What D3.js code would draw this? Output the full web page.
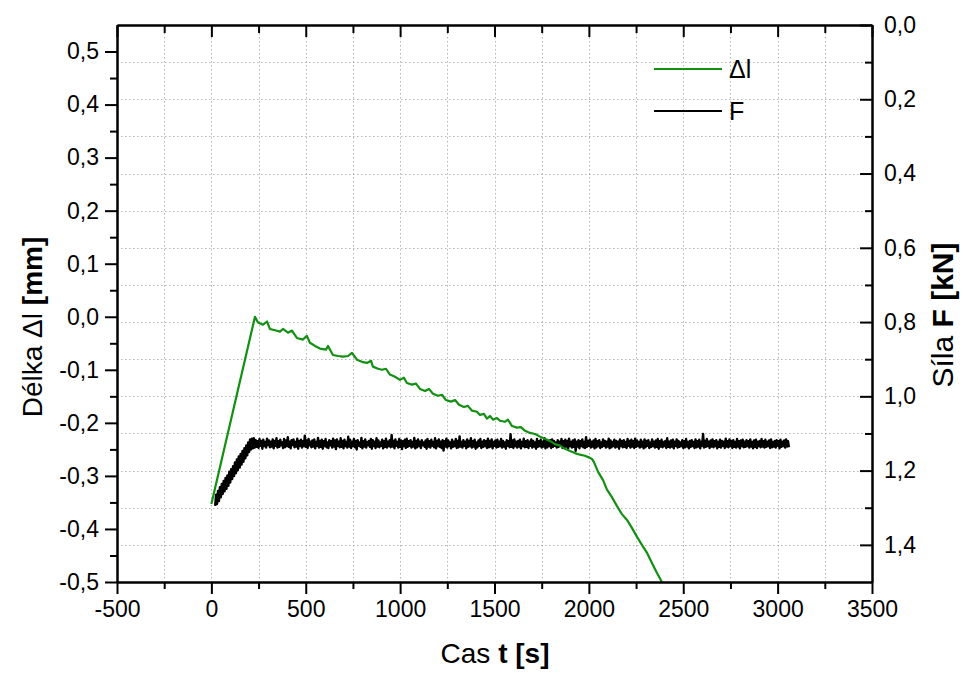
<!DOCTYPE html>
<html><head><meta charset="utf-8">
<script src="https://cdn.jsdelivr.net/npm/d3@7"></script>
<style>
body{margin:0;background:#fff}
text{font-family:"Liberation Sans",Arial,sans-serif;fill:#000}
</style>
</head><body>
<svg id="chart" width="963" height="673"></svg>
<script>
// ---------- data ----------
const xMajorTicks = [-500,0,500,1000,1500,2000,2500,3000,3500];
const xMinorTicks = [-250,250,750,1250,1750,2250,2750,3250];
const leftMajorTicks = [-0.5,-0.4,-0.3,-0.2,-0.1,0.0,0.1,0.2,0.3,0.4,0.5];
const leftMinorTicks = [-0.45,-0.35,-0.25,-0.15,-0.05,0.05,0.15,0.25,0.35,0.45];
const rightMajorTicks = [0.0,0.2,0.4,0.6,0.8,1.0,1.2,1.4];
const rightMinorTicks = [0.1,0.3,0.5,0.7,0.9,1.1,1.3];

// Δl (green) – time [s] and length [mm]
const dlTime = [0,231,247,273,295,310,342,363,379,406,427,453,485,506,522,549,575,607,618,644,671,697,724,745,771,798,824,846,856,883,904,925,946,973,999,1020,1036,1063,1084,1105,1132,1153,1174,1201,1222,1243,1269,1291,1312,1338,1359,1381,1407,1423,1444,1460,1476,1492,1513,1529,1555,1571,1593,1619,1640,1662,1688,1715,1741,1767,1794,1820,1847,1873,1900,1926,1953,1979,2006,2016,2027,2048,2075,2096,2122,2149,2175,2202,2228,2255,2281,2308,2334,2361,2387];
const dlValue = [-0.353,0.000,-0.011,-0.015,-0.009,-0.023,-0.026,-0.028,-0.023,-0.030,-0.026,-0.040,-0.043,-0.036,-0.049,-0.055,-0.060,-0.062,-0.055,-0.072,-0.074,-0.075,-0.074,-0.068,-0.081,-0.085,-0.087,-0.083,-0.094,-0.098,-0.100,-0.098,-0.109,-0.113,-0.119,-0.115,-0.125,-0.128,-0.126,-0.136,-0.140,-0.136,-0.145,-0.149,-0.147,-0.157,-0.160,-0.157,-0.166,-0.170,-0.168,-0.177,-0.179,-0.185,-0.183,-0.192,-0.187,-0.194,-0.191,-0.196,-0.198,-0.194,-0.206,-0.209,-0.208,-0.215,-0.219,-0.221,-0.226,-0.230,-0.234,-0.240,-0.243,-0.249,-0.253,-0.257,-0.260,-0.262,-0.266,-0.268,-0.274,-0.292,-0.308,-0.326,-0.340,-0.357,-0.372,-0.383,-0.398,-0.415,-0.430,-0.445,-0.464,-0.483,-0.500];

// F (black) – sampled every fStep seconds starting at fStart, force [kN]
const fStart = 20;
const fStep = 5;
const fValues = [
1.295,1.265,1.290,1.255,1.282,1.245,1.272,1.236,1.263,1.228,1.256,1.220,1.249,1.213,1.241,1.203,1.232,1.196,1.223,1.188,1.215,1.178,1.207,1.170,1.199,1.162,1.192,1.155,1.184,1.147,1.176,1.140,1.167,1.132,1.159,1.124,1.150,1.116,1.143,1.114,1.140,1.113,1.138,
1.118,1.136,1.121,1.139,1.115,1.133,1.120,1.141,1.117,1.134,1.123,1.138,1.114,1.131,1.119,1.137,1.122,1.135,1.116,1.140,
1.120,1.133,1.113,1.138,1.121,1.136,1.117,1.132,1.124,1.139,1.115,1.137,1.119,1.134,1.110,1.136,1.122,1.140,1.118,1.131,
1.116,1.137,1.123,1.135,1.114,1.141,1.120,1.133,1.117,1.138,1.121,1.134,1.106,1.136,1.119,1.139,1.115,1.132,1.122,1.137,
1.119,1.135,1.116,1.140,1.123,1.133,1.112,1.138,1.120,1.136,1.117,1.141,1.121,1.134,1.115,1.137,1.124,1.139,1.118,1.132,
1.121,1.138,1.114,1.135,1.119,1.142,1.116,1.133,1.122,1.137,1.113,1.136,1.120,1.140,1.117,1.134,1.123,1.138,1.109,1.135,
1.117,1.139,1.122,1.134,1.115,1.137,1.120,1.143,1.118,1.133,1.124,1.136,1.112,1.140,1.121,1.135,1.116,1.138,1.123,1.132,
1.120,1.136,1.115,1.141,1.118,1.134,1.122,1.139,1.113,1.135,1.119,1.137,1.124,1.133,1.117,1.140,1.121,1.136,1.114,1.138,
1.122,1.134,1.118,1.137,1.104,1.135,1.120,1.140,1.116,1.133,1.123,1.138,1.115,1.136,1.119,1.142,1.121,1.134,1.117,1.139,
1.114,1.136,1.121,1.133,1.118,1.138,1.123,1.135,1.112,1.140,1.120,1.137,1.116,1.134,1.122,1.139,1.118,1.132,1.124,1.136,
1.119,1.141,1.115,1.135,1.121,1.138,1.117,1.133,1.123,1.137,1.113,1.140,1.120,1.134,1.116,1.136,1.122,1.139,1.118,1.146,
1.121,1.135,1.114,1.138,1.119,1.133,1.124,1.140,1.117,1.136,1.122,1.134,1.115,1.139,1.120,1.137,1.108,1.135,1.123,1.138,
1.118,1.133,1.122,1.140,1.116,1.136,1.120,1.134,1.113,1.138,1.121,1.135,1.117,1.141,1.124,1.137,1.119,1.133,1.115,1.139,
1.122,1.136,1.118,1.134,1.121,1.139,1.114,1.137,1.120,1.135,1.116,1.140,1.123,1.133,1.119,1.138,1.117,1.136,1.122,1.134,
1.115,1.138,1.120,1.135,1.124,1.141,1.118,1.133,1.121,1.137,1.102,1.136,1.119,1.139,1.116,1.134,1.122,1.138,1.120,1.135,
1.117,1.140,1.123,1.134,1.114,1.137,1.121,1.136,1.118,1.139,1.122,1.133,1.116,1.138,1.120,1.135,1.124,1.141,1.115,1.136,
1.121,1.134,1.117,1.138,1.122,1.135,1.113,1.140,1.119,1.137,1.123,1.134,1.118,1.139,1.116,1.136,1.120,1.133,1.124,1.138,
1.118,1.136,1.122,1.133,1.115,1.139,1.121,1.137,1.117,1.135,1.120,1.141,1.114,1.134,1.123,1.138,1.119,1.136,1.116,1.147,
1.122,1.135,1.118,1.140,1.121,1.134,1.116,1.137,1.123,1.139,1.110,1.136,1.120,1.133,1.117,1.138,1.122,1.135,1.119,1.140,
1.115,1.137,1.121,1.134,1.118,1.139,1.124,1.136,1.116,1.133,1.120,1.138,1.122,1.135,1.114,1.140,1.119,1.137,1.123,1.134,
1.117,1.138,1.120,1.135,1.122,1.141,1.116,1.134,1.121,1.137,1.118,1.136,1.123,1.139,1.115,1.133,1.120,1.138,1.117,1.135,
1.121,1.139,1.114,1.136,1.119,1.134,1.123,1.138,1.117,1.135,1.122,1.140,1.116,1.137,1.120,1.133,1.118,1.139,1.124,1.136,
1.116,1.134,1.122,1.138,1.119,1.136,1.115,1.141,1.121,1.135,1.117,1.137,1.123,1.134,1.120,1.139,1.113,1.136,1.122,1.138,
1.119,1.135,1.117,1.140,1.122,1.133,1.116,1.138,1.120,1.136,1.124,1.134,1.118,1.139,1.121,1.137,1.115,1.135,1.123,1.140,
1.120,1.136,1.118,1.134,1.123,1.139,1.116,1.137,1.121,1.135,1.117,1.140,1.122,1.133,1.101,1.138,1.120,1.136,1.115,1.134,
1.122,1.139,1.119,1.135,1.116,1.137,1.121,1.134,1.118,1.140,1.123,1.136,1.117,1.138,1.120,1.133,1.122,1.139,1.114,1.135,
1.121,1.137,1.116,1.134,1.120,1.139,1.118,1.136,1.123,1.138,1.115,1.135,1.121,1.140,1.119,1.134,1.117,1.137,1.122,1.136,
1.118,1.134,1.121,1.138,1.116,1.135,1.123,1.140,1.119,1.136,1.117,1.139,1.122,1.134,1.120,1.137,1.115,1.135,1.121,1.138,
1.117,1.136,1.122,1.134,1.119,1.139,1.116,1.137,1.123,1.135,1.120,1.138,1.118,1.133,1.121,1.140,1.117,1.136,1.122,1.134,
1.119,1.138,1.116,1.135,1.121,1.137
];

const legendLabels = ["Δl","F"];
const seriesColors = ["#129012","#000000"];

// ---------- layout ----------
const L = 117, R = 872, T = 25, B = 582;
const svg = d3.select("#chart");
const loc = d3.formatLocale({decimal:",",thousands:" ",grouping:[3],currency:["",""],minus:"-"});
const f1 = loc.format(".1f");
const f0 = loc.format("d");

const x = d3.scaleLinear().domain([-500,3500]).range([L,R]);
const yL = d3.scaleLinear().domain([-0.5,0.55]).range([B,T]);
const yR = d3.scaleLinear().domain([0,1.5]).range([T,B]);

// grid
const grid = svg.append("g").attr("stroke","#b4b4b4").attr("stroke-width",1).attr("stroke-dasharray","1.5,2.5");
const vGrid = xMajorTicks.concat(xMinorTicks).filter(v => v > -500 && v < 3500);
grid.selectAll("line.v").data(vGrid).join("line").attr("class","v")
  .attr("x1",d=>Math.round(x(d))+0.5).attr("x2",d=>Math.round(x(d))+0.5).attr("y1",T).attr("y2",B);
const hGrid = rightMajorTicks.concat(rightMinorTicks).filter(v => v > 0 && v < 1.5);
grid.selectAll("line.h").data(hGrid).join("line").attr("class","h")
  .attr("y1",d=>Math.round(yR(d))+0.5).attr("y2",d=>Math.round(yR(d))+0.5).attr("x1",L).attr("x2",R);

// series
const fData = fValues.map((v,i)=>({t:fStart+i*fStep, v}));
const dlData = dlTime.map((t,i)=>({t, v:dlValue[i]}));

svg.append("path").datum(fData)
  .attr("fill","none").attr("stroke",seriesColors[1]).attr("stroke-width",2.4).attr("stroke-linejoin","round")
  .attr("d", d3.line().x(d=>x(d.t)).y(d=>yR(d.v)));
svg.append("path").datum(dlData)
  .attr("fill","none").attr("stroke",seriesColors[0]).attr("stroke-width",2.2).attr("stroke-linejoin","round")
  .attr("d", d3.line().x(d=>x(d.t)).y(d=>yL(d.v)));

// axes
function style(g, fs){
  g.select(".domain").attr("stroke","#000").attr("stroke-width",2);
  g.selectAll(".tick line").attr("stroke","#000").attr("stroke-width",2);
  g.selectAll(".tick text").attr("font-size",fs).attr("fill","#000").attr("font-family",'"Liberation Sans",Arial,sans-serif');
}
const FS = 23;
// bottom
svg.append("g").attr("transform",`translate(0,${B})`)
  .call(d3.axisBottom(x).tickValues(xMajorTicks).tickFormat(f0).tickSize(12).tickSizeOuter(0).tickPadding(7))
  .call(g=>style(g,FS));
svg.append("g").attr("transform",`translate(0,${B})`)
  .call(d3.axisBottom(x).tickValues(xMinorTicks).tickFormat("").tickSize(7).tickSizeOuter(0))
  .call(g=>style(g,FS));
// top
svg.append("g").attr("transform",`translate(0,${T})`)
  .call(d3.axisTop(x).tickValues(xMajorTicks).tickFormat("").tickSize(-12).tickSizeOuter(0))
  .call(g=>style(g,FS));
svg.append("g").attr("transform",`translate(0,${T})`)
  .call(d3.axisTop(x).tickValues(xMinorTicks).tickFormat("").tickSize(-8).tickSizeOuter(0))
  .call(g=>style(g,FS));
// left
svg.append("g").attr("transform",`translate(${L},0)`)
  .call(d3.axisLeft(yL).tickValues(leftMajorTicks).tickFormat(f1).tickSize(12).tickSizeOuter(0).tickPadding(6))
  .call(g=>style(g,FS));
svg.append("g").attr("transform",`translate(${L},0)`)
  .call(d3.axisLeft(yL).tickValues(leftMinorTicks).tickFormat("").tickSize(7).tickSizeOuter(0))
  .call(g=>style(g,FS));
// right (inward ticks)
svg.append("g").attr("transform",`translate(${R},0)`)
  .call(d3.axisRight(yR).tickValues(rightMajorTicks).tickFormat(f1).tickSize(-12).tickSizeOuter(0).tickPadding(12))
  .call(g=>style(g,FS));
svg.append("g").attr("transform",`translate(${R},0)`)
  .call(d3.axisRight(yR).tickValues(rightMinorTicks).tickFormat("").tickSize(-7).tickSizeOuter(0))
  .call(g=>style(g,FS));

// axis titles
const tl = svg.append("text").attr("transform","translate(42,327) rotate(-90)").attr("text-anchor","middle").attr("font-size",28);
tl.append("tspan").text("Délka Δl ");
tl.append("tspan").attr("font-weight","bold").text("[mm]");

const tb = svg.append("text").attr("x",495).attr("y",663).attr("text-anchor","middle").attr("font-size",28);
tb.append("tspan").text("Cas ");
tb.append("tspan").attr("font-weight","bold").text("t [s]");

const tr = svg.append("text").attr("transform","translate(953,315) rotate(-90)").attr("text-anchor","middle").attr("font-size",30);
tr.append("tspan").text("Síla ");
tr.append("tspan").attr("font-weight","bold").text("F [kN]");

// legend
const legY = [69,111];
const leg = svg.append("g");
legendLabels.forEach((lab,i)=>{
  leg.append("line").attr("x1",654).attr("x2",722).attr("y1",legY[i]).attr("y2",legY[i])
    .attr("stroke",seriesColors[i]).attr("stroke-width",2);
  leg.append("text").attr("x",729).attr("y",legY[i]+9).attr("font-size",25).text(lab);
});
</script>
</body></html>
